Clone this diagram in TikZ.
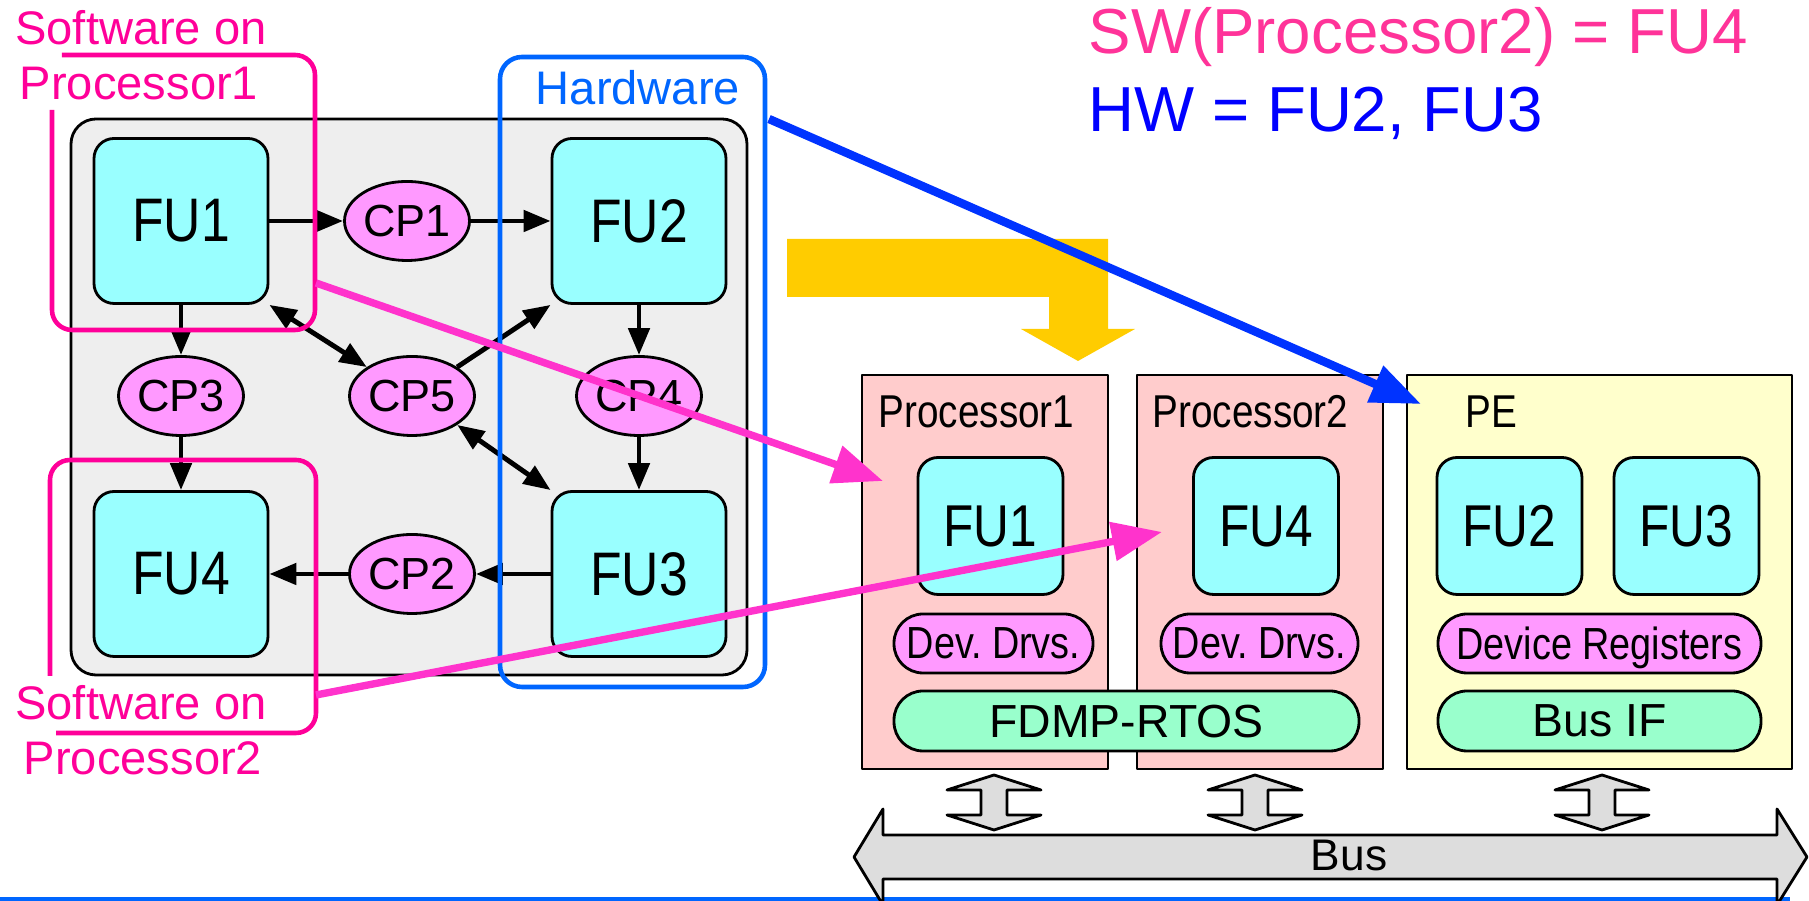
\documentclass[tikz,border=0pt]{standalone}
\usepackage{fontspec}
\setmainfont{Liberation Sans}
\newfontfamily\narrowfont{Liberation Sans}[FakeStretch=0.84]
\usetikzlibrary{arrows.meta,shapes.geometric}

\definecolor{fucyan}{HTML}{99FFFF}
\definecolor{cppink}{HTML}{FF99FF}
\definecolor{grayback}{HTML}{EEEEEE}
\definecolor{procpink}{HTML}{FFCCCC}
\definecolor{peyellow}{HTML}{FFFFCC}
\definecolor{osgreen}{HTML}{99FFCC}
\definecolor{busgray}{HTML}{DDDDDD}
\definecolor{swmagenta}{HTML}{FF0099}
\definecolor{swpink}{HTML}{FF3399}
\definecolor{hwblue}{HTML}{0066FF}
\definecolor{mapblue}{HTML}{0033FF}
\definecolor{mappink}{HTML}{FF33CC}
\definecolor{flowyellow}{HTML}{FFCC00}

\begin{document}
\begin{tikzpicture}[line join=round,
  fu/.style={draw, line width=0.8pt, fill=fucyan, rounded corners=0.2cm, inner sep=0pt,
    minimum width=1.74cm, minimum height=1.65cm, font=\narrowfont\fontsize{17.5}{19}\selectfont},
  fus/.style={fu, minimum width=1.45cm, minimum height=1.37cm,
    font=\narrowfont\fontsize{16.8}{18}\selectfont},
  cp/.style={ellipse, draw, line width=0.8pt, fill=cppink, inner sep=0pt,
    minimum width=1.25cm, minimum height=0.79cm, font=\fontsize{12.8}{14}\selectfont},
  unit/.style={draw, line width=0.8pt, inner sep=0pt, minimum height=3.94cm},
  plab/.style={anchor=base west, inner sep=0pt, font=\narrowfont\fontsize{13.1}{15}\selectfont},
  drv/.style={draw, line width=0.8pt, fill=cppink, rounded corners=0.29cm, inner sep=0pt,
    minimum height=0.59cm, text depth=0pt, font=\narrowfont\fontsize{12.8}{14}\selectfont},
  os/.style={draw, line width=0.8pt, fill=osgreen, rounded corners=0.29cm, inner sep=0pt,
    minimum height=0.6cm, text depth=0pt, font=\fontsize{13.2}{15}\selectfont},
  swlab/.style={anchor=base, inner sep=0pt, text=swmagenta, font=\fontsize{13.4}{16}\selectfont},
  maplab/.style={anchor=base west, inner sep=0pt, font=\fontsize{18.1}{21}\selectfont},
  link/.style={line width=1.4pt, -{Triangle[length=0.27cm, width=0.21cm]}},
  both/.style={line width=1.4pt, {Triangle[length=0.27cm, width=0.21cm]}-{Triangle[length=0.27cm, width=0.21cm]}},
  map/.style={line width=2.1pt, -{Triangle[length=0.5cm, width=0.38cm]}}]
  \useasboundingbox (0,0) rectangle (18.09,9.01);

  \draw[line width=0.8pt, fill=grayback, rounded corners=0.25cm] (0.71,2.26) rectangle (7.47,7.82);
  \node[fu] (fu1) at (1.81,6.80) {FU1};
  \node[fu] (fu2) at (6.39,6.80) {FU2};
  \node[fu] (fu3) at (6.39,3.27) {FU3};
  \node[fu] (fu4) at (1.81,3.27) {FU4};
  \node[cp] (cp1) at (4.07,6.80) {CP1};
  \node[cp] (cp2) at (4.12,3.27) {CP2};
  \node[cp] (cp3) at (1.81,5.05) {CP3};
  \node[cp] (cp4) at (6.39,5.05) {CP4};
  \node[cp] (cp5) at (4.12,5.05) {CP5};
  \draw[link] (fu1) -- (cp1);
  \draw[link] (cp1) -- (fu2);
  \draw[link] (fu1) -- (cp3);
  \draw[link] (cp3) -- (fu4);
  \draw[link] (fu2) -- (cp4);
  \draw[link] (cp4) -- (fu3);
  \draw[link] (fu3) -- (cp2);
  \draw[link] (cp2) -- (fu4);
  \draw[both] (cp5.north west) -- (fu1.south east);
  \draw[link] (cp5.north east) -- (fu2.south west);
  \draw[both] (cp5.south east) -- (fu3.north west);

  \draw[hwblue, line width=1.3pt, rounded corners=0.22cm] (5.00,2.14) rectangle (7.65,8.44);
  \node[anchor=base, inner sep=0pt, text=hwblue, font=\fontsize{13.4}{16}\selectfont]
    (hwlab) at (6.38,7.96) {Hardware};
  \draw[swmagenta, line width=1.3pt, rounded corners=0.2cm]
    (0.62,8.46) -- (3.15,8.46) -- (3.15,5.71) -- (0.52,5.71) -- (0.52,7.91);
  \draw[swmagenta, line width=1.3pt, rounded corners=0.2cm]
    (0.50,2.25) -- (0.50,4.41) -- (3.16,4.41) -- (3.16,1.68) -- (0.56,1.68);
  \node[swlab] (sw1a) at (1.41,8.56) {Software on};
  \node[swlab] (sw1b) at (1.39,8.01) {Processor1};
  \node[swlab] (sw2a) at (1.41,1.81) {Software on};
  \node[swlab] (sw2b) at (1.43,1.26) {Processor2};

  \fill[flowyellow] (7.87,6.62) -- (11.08,6.62) -- (11.08,5.72) -- (11.35,5.72) -- (10.78,5.40)
    -- (10.21,5.72) -- (10.49,5.72) -- (10.49,6.04) -- (7.87,6.04) -- cycle;

  \node[unit, fill=procpink, minimum width=2.46cm] (proc1) at (9.85,3.29) {};
  \node[unit, fill=procpink, minimum width=2.46cm] (proc2) at (12.60,3.29) {};
  \node[unit, fill=peyellow, minimum width=3.85cm] (pe) at (15.995,3.29) {};
  \node[plab] (proc1lab) at (8.78,4.73) {Processor1};
  \node[plab] (proc2lab) at (11.52,4.73) {Processor2};
  \node[plab] (pelab) at (14.65,4.73) {PE};
  \node[fus] (pfu1) at (9.905,3.75) {FU1};
  \node[fus] (pfu4) at (12.66,3.75) {FU4};
  \node[fus] (pfu2) at (15.095,3.75) {FU2};
  \node[fus] (pfu3) at (16.865,3.75) {FU3};
  \node[drv, minimum width=1.99cm] (drv1) at (9.935,2.575) {Dev.\ Drvs.};
  \node[drv, minimum width=1.97cm] (drv2) at (12.595,2.575) {Dev.\ Drvs.};
  \node[drv, minimum width=3.23cm] (devreg) at (15.995,2.575) {Device Registers};
  \node[os, minimum width=4.65cm] (rtos) at (11.265,1.80) {FDMP-RTOS};
  \node[os, minimum width=3.23cm] (busif) at (15.995,1.80) {Bus IF};

  \fill[hwblue] (0,0) rectangle (17.90,0.04);
  \draw[line width=0.8pt, fill=busgray] (8.54,0.44) -- (8.83,0.92) -- (8.83,0.66) -- (17.77,0.66)
    -- (17.77,0.92) -- (18.07,0.44) -- (17.77,-0.04) -- (17.77,0.22) -- (8.83,0.22) -- (8.83,-0.04) -- cycle;
  \node[font=\fontsize{12.6}{14}\selectfont] (bus) at (13.49,0.46) {Bus};
  \foreach \x in {9.94,12.55,16.02}
    \draw[line width=0.8pt, fill=busgray] (\x,1.26) -- ++(0.47,-0.15) -- ++(-0.34,0) -- ++(0,-0.25)
      -- ++(0.34,0) -- (\x,0.71) -- ++(-0.47,0.15) -- ++(0.34,0) -- ++(0,0.25) -- ++(-0.34,0) -- cycle;

  \node[maplab, text=swpink] (swmap) at (10.88,8.47) {SW(Processor2) = FU4};
  \node[maplab, text=blue] (hwmap) at (10.88,7.69) {HW = FU2, FU3};

  \coordinate (sw1out) at (3.16,6.18);
  \coordinate (sw2out) at (3.16,2.06);
  \coordinate (hwout) at (7.69,7.82);
  \coordinate (proc1in) at (8.83,4.20);
  \coordinate (proc2in) at (11.62,3.69);
  \coordinate (pein) at (14.21,4.97);
  \draw[map, mappink] (sw1out) -- (proc1in);
  \draw[map, mappink] (sw2out) -- (proc2in);
  \draw[map, mapblue, line width=2.4pt] (hwout) -- (pein);
\end{tikzpicture}
\end{document}
